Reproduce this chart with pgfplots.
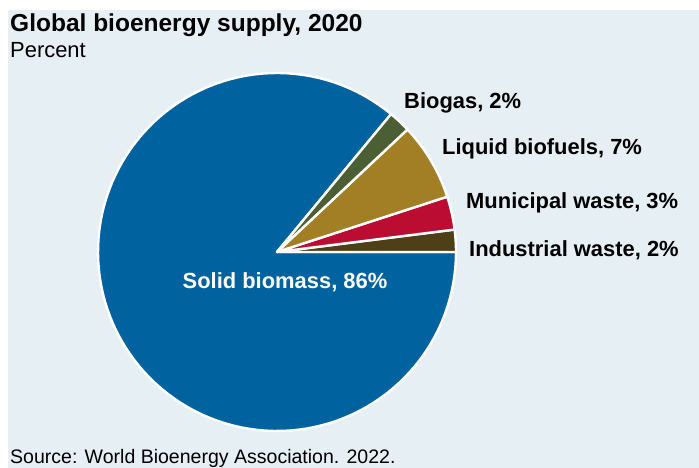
\documentclass[border=0pt]{standalone}
\usepackage{pgfplots}
\usepackage{pgfplotstable}
\pgfplotsset{compat=1.18}
\usepackage{fontspec}
\setmainfont{Liberation Sans}
\definecolor{bgcol}{HTML}{E6EFF3}
\definecolor{solid}{HTML}{0063A0}
\definecolor{biogas}{HTML}{4B5E34}
\definecolor{liquid}{HTML}{A27F24}
\definecolor{munwaste}{HTML}{BB0D32}
\definecolor{indwaste}{HTML}{4F3F17}

\pgfplotstableread[col sep=comma]{
name,share
Industrial waste,2
Municipal waste,3
Liquid biofuels,7
Biogas,2
Solid biomass,86
}\pietable

\begin{document}
\begin{tikzpicture}[x=1bp,y=1bp]
\useasboundingbox (0,0) rectangle (699,468);
\fill[bgcol] (8,0) rectangle (699,458);
% cumulative angles from the table
\pgfplotstablegetelem{0}{share}\of\pietable \pgfmathsetmacro\bA{3.6*\pgfplotsretval}
\pgfplotstablegetelem{1}{share}\of\pietable \pgfmathsetmacro\bB{\bA+3.6*\pgfplotsretval}
\pgfplotstablegetelem{2}{share}\of\pietable \pgfmathsetmacro\bC{\bB+3.6*\pgfplotsretval}
\pgfplotstablegetelem{3}{share}\of\pietable \pgfmathsetmacro\bD{\bC+3.6*\pgfplotsretval}
\pgfplotstablegetelem{4}{share}\of\pietable \pgfmathsetmacro\bE{\bD+3.6*\pgfplotsretval}
\begin{axis}[
  at={(0,0)}, anchor=south west,
  width=699bp, height=468bp, scale only axis,
  xmin=0, xmax=699, ymin=0, ymax=468,
  hide axis, clip=false,
]
\def\cx{277}\def\cy{216}\def\rr{179}
\addplot[fill=solid, draw=white, line width=2.4bp, line join=round, domain=\bD:\bE, samples=120, variable=\t]
  ({\cx+\rr*cos(\t)},{\cy+\rr*sin(\t)}) -- (axis cs:277,216) -- cycle;
\addplot[fill=indwaste, draw=white, line width=2.4bp, line join=round, domain=0:\bA, samples=8, variable=\t]
  ({\cx+\rr*cos(\t)},{\cy+\rr*sin(\t)}) -- (axis cs:277,216) -- cycle;
\addplot[fill=munwaste, draw=white, line width=2.4bp, line join=round, domain=\bA:\bB, samples=10, variable=\t]
  ({\cx+\rr*cos(\t)},{\cy+\rr*sin(\t)}) -- (axis cs:277,216) -- cycle;
\addplot[fill=liquid, draw=white, line width=2.4bp, line join=round, domain=\bB:\bC, samples=20, variable=\t]
  ({\cx+\rr*cos(\t)},{\cy+\rr*sin(\t)}) -- (axis cs:277,216) -- cycle;
\addplot[fill=biogas, draw=white, line width=2.4bp, line join=round, domain=\bC:\bD, samples=8, variable=\t]
  ({\cx+\rr*cos(\t)},{\cy+\rr*sin(\t)}) -- (axis cs:277,216) -- cycle;

\node[anchor=base west, inner sep=0pt, font=\bfseries\fontsize{22}{26}\selectfont] at (axis cs:404,359) {Biogas, 2\%};
\node[anchor=base west, inner sep=0pt, font=\bfseries\fontsize{22}{26}\selectfont] at (axis cs:442,313) {Liquid biofuels, 7\%};
\node[anchor=base west, inner sep=0pt, font=\bfseries\fontsize{22}{26}\selectfont] at (axis cs:466,259) {Municipal waste, 3\%};
\node[anchor=base west, inner sep=0pt, font=\bfseries\fontsize{22}{26}\selectfont] at (axis cs:469,211) {Industrial waste, 2\%};
\node[anchor=base, inner sep=0pt, text=white, font=\bfseries\fontsize{22}{26}\selectfont] at (axis cs:285,179) {Solid biomass, 86\%};
\end{axis}
\node[anchor=base west, inner sep=0pt, font=\bfseries\fontsize{24.6}{29}\selectfont] at (10,436.5) {Global bioenergy supply, 2020};
\node[anchor=base west, inner sep=0pt, font=\fontsize{22}{26}\selectfont] at (10,410) {Percent};
\node[anchor=base west, inner sep=0pt, font=\fontsize{19.6}{24}\selectfont] at (10,4.6) {Source: World Bioenergy Association. 2022.};
\end{tikzpicture}
\end{document}
